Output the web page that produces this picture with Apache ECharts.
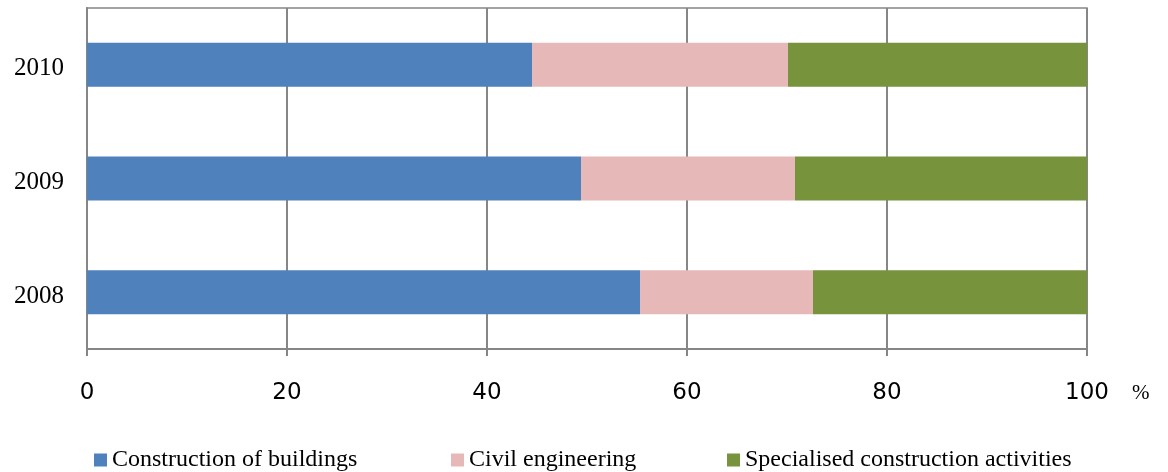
<!DOCTYPE html>
<html>
<head>
<meta charset="utf-8">
<script src="https://cdn.jsdelivr.net/npm/echarts@6/dist/echarts.min.js"></script>
<style>html,body{margin:0;padding:0;background:#fff}#c{width:1168px;height:472px}</style>
</head>
<body>
<div id="c"></div>
<script>
const years = ['2008', '2009', '2010'];
const buildings = [55.3, 49.4, 44.5];
const civil = [17.3, 21.4, 25.6];
const specialised = [27.4, 29.2, 29.9];
const xTicks = [0, 20, 40, 60, 80, 100];
const seriesNames = ['Construction of buildings', 'Civil engineering', 'Specialised construction activities'];
const colors = ['#4F81BD', '#E6B9B8', '#77933C'];

const chart = echarts.init(document.getElementById('c'));
const gray = '#868686';
const legendLefts = [94, 451, 727];
chart.setOption({
  animation: false,
  grid: {left: 87, right: 81, top: 8, bottom: 123, show: true, borderColor: gray, borderWidth: 1.5, containLabel: false},
  xAxis: {
    type: 'value', min: 0, max: 100, interval: 20,
    axisLine: {show: true, lineStyle: {color: gray, width: 2}},
    axisTick: {show: true, length: 7, lineStyle: {color: gray, width: 2}},
    splitLine: {show: true, lineStyle: {color: gray, width: 2}},
    axisLabel: {fontFamily: 'DejaVu Sans', fontSize: 23, color: '#000', margin: 33,
      formatter: v => xTicks.includes(v) ? String(v) : ''}
  },
  yAxis: {
    type: 'category', data: years,
    axisLine: {show: true, lineStyle: {color: gray, width: 2}},
    axisTick: {show: false},
    axisLabel: {margin: 23, formatter: v => '{a|' + v + '}',
      rich: {a: {fontFamily: 'Liberation Serif', fontSize: 25, color: '#000', padding: [8, 0, 0, 0]}}}
  },
  legend: seriesNames.map((n, i) => ({
    data: [n], left: legendLefts[i], top: 448, padding: 0, icon: 'rect', itemWidth: 13, itemHeight: 13, itemGap: 0,
    textStyle: {fontFamily: 'Liberation Serif', fontSize: 24, color: '#000'}
  })),
  graphic: [{type: 'text', left: 1132, top: 383, style: {text: '%', font: '21px "Liberation Serif"', fill: '#000'}}],
  series: [buildings, civil, specialised].map((d, i) => ({
    name: seriesNames[i], type: 'bar', stack: 'total', data: d, barWidth: 44,
    itemStyle: {color: colors[i]}
  }))
});
</script>
</body>
</html>
